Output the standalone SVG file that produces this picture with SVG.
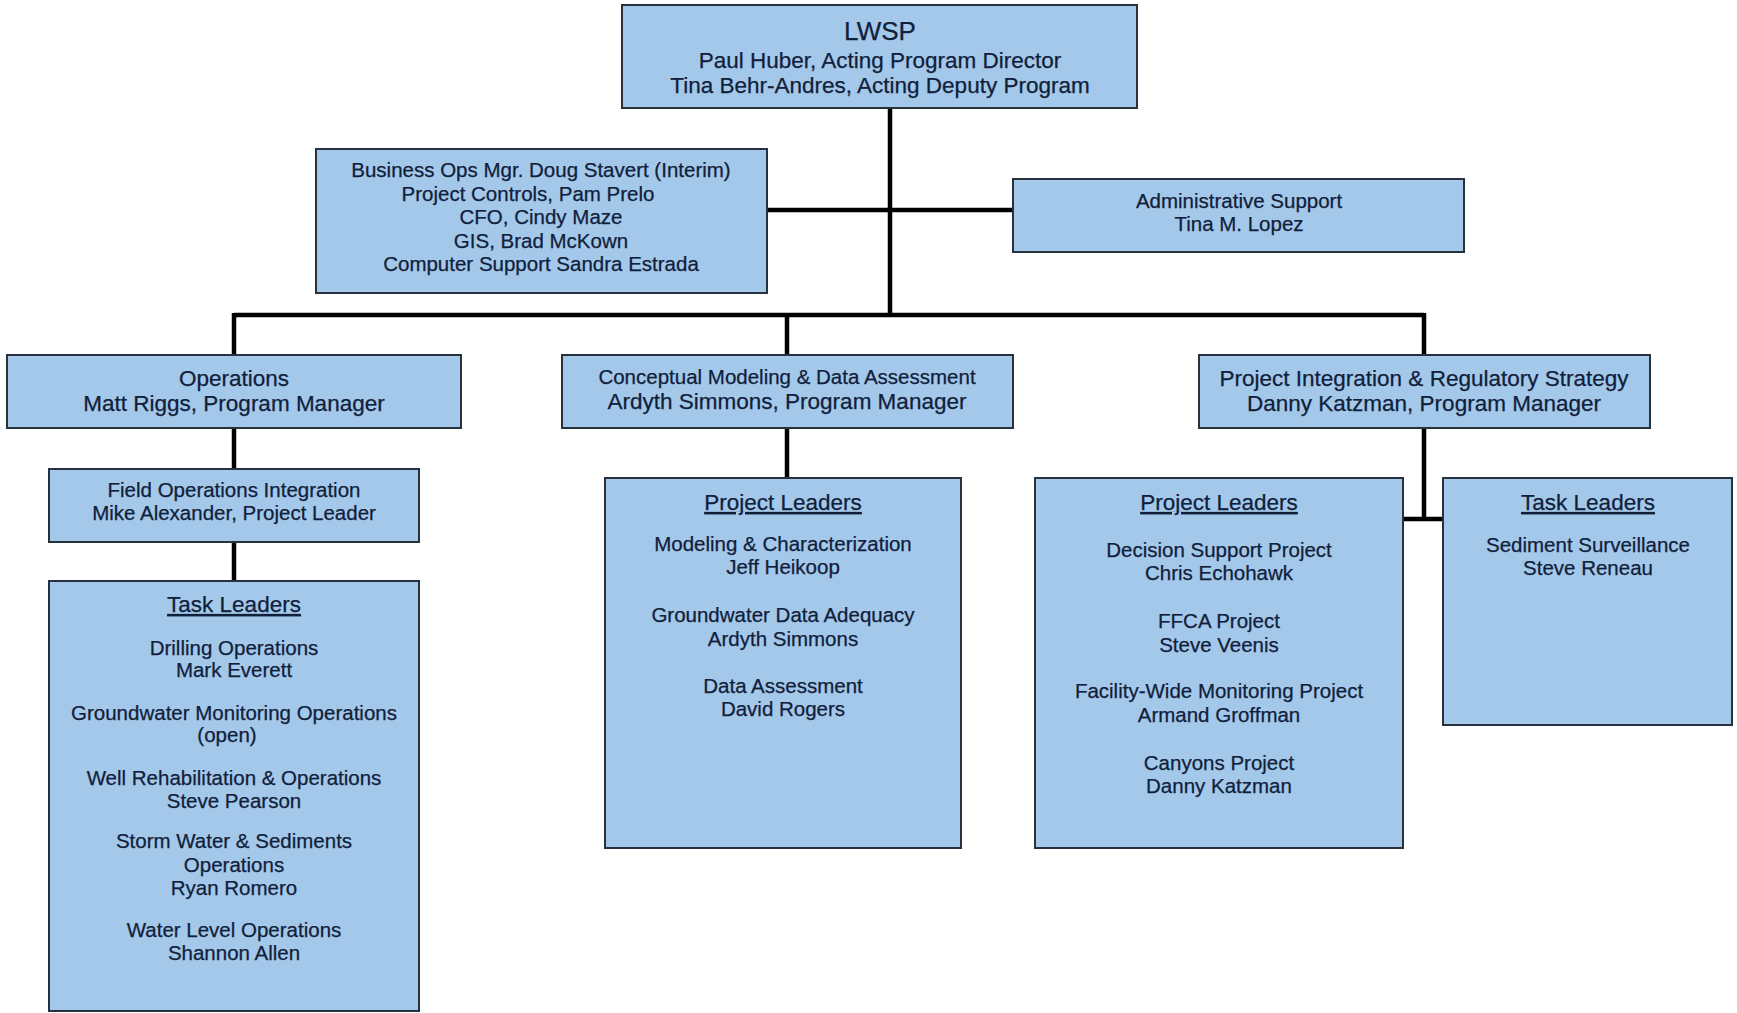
<svg xmlns="http://www.w3.org/2000/svg" width="1737" height="1013" viewBox="0 0 1737 1013">
<style>
.box{fill:#a4c8ea;stroke:#28323c;stroke-width:2}
text{font-family:"Liberation Sans",Arial,sans-serif;fill:#10203a;stroke:#10203a;stroke-width:0.25;text-anchor:middle}
.t{font-size:20.5px}
.m{font-size:22.5px}
.h{font-size:22.5px;text-decoration:underline}
.conn{stroke:#000;stroke-width:4.5;fill:none}
</style>
<rect width="1737" height="1013" fill="#fff"/>
<g id="connectors">
<path class="conn" d="M890 108 V315"/>
<path class="conn" d="M767 210 H1013"/>
<path class="conn" d="M234 315 H1424"/>
<path class="conn" d="M234 313 V355"/>
<path class="conn" d="M787 313 V355"/>
<path class="conn" d="M1424 313 V355"/>
<path class="conn" d="M234 428 V469"/>
<path class="conn" d="M234 542 V581"/>
<path class="conn" d="M787 428 V478"/>
<path class="conn" d="M1424 428 V519"/>
<path class="conn" d="M1403 519 H1443"/>
</g>
<g id="lwsp">
<rect class="box" x="622" y="5" width="515" height="103"/>
<text x="880" y="40" style="font-size:26px">LWSP</text>
<text class="m" x="880" y="68">Paul Huber, Acting Program Director</text>
<text class="m" x="880" y="93">Tina Behr-Andres, Acting Deputy Program</text>
</g>
<g id="business">
<rect class="box" x="316" y="149" width="451" height="144"/>
<text class="t" x="541" y="177">Business Ops Mgr. Doug Stavert (Interim)</text>
<text class="t" x="528" y="201">Project Controls, Pam Prelo</text>
<text class="t" x="541" y="224">CFO, Cindy Maze</text>
<text class="t" x="541" y="248">GIS, Brad McKown</text>
<text class="t" x="541" y="271">Computer Support Sandra Estrada</text>
</g>
<g id="admin">
<rect class="box" x="1013" y="179" width="451" height="73"/>
<text class="t" x="1239" y="208">Administrative Support</text>
<text class="t" x="1239" y="231">Tina M. Lopez</text>
</g>
<g id="operations">
<rect class="box" x="7" y="355" width="454" height="73"/>
<text class="m" x="234" y="386">Operations</text>
<text class="m" x="234" y="411">Matt Riggs, Program Manager</text>
</g>
<g id="conceptual">
<rect class="box" x="562" y="355" width="451" height="73"/>
<text class="t" x="787" y="384">Conceptual Modeling &amp; Data Assessment</text>
<text class="m" x="787" y="409">Ardyth Simmons, Program Manager</text>
</g>
<g id="integration">
<rect class="box" x="1199" y="355" width="451" height="73"/>
<text class="m" x="1424" y="386">Project Integration &amp; Regulatory Strategy</text>
<text class="m" x="1424" y="411">Danny Katzman, Program Manager</text>
</g>
<g id="field-ops">
<rect class="box" x="49" y="469" width="370" height="73"/>
<text class="t" x="234" y="497">Field Operations Integration</text>
<text class="t" x="234" y="520">Mike Alexander, Project Leader</text>
</g>
<g id="ops-task-leaders">
<rect class="box" x="49" y="581" width="370" height="430"/>
<text class="h" x="234" y="612">Task Leaders</text>
<text class="t" x="234" y="655">Drilling Operations</text>
<text class="t" x="234" y="677">Mark Everett</text>
<text class="t" x="234" y="720">Groundwater Monitoring Operations</text>
<text class="t" x="227" y="742">(open)</text>
<text class="t" x="234" y="785">Well Rehabilitation &amp; Operations</text>
<text class="t" x="234" y="808">Steve Pearson</text>
<text class="t" x="234" y="848">Storm Water &amp; Sediments</text>
<text class="t" x="234" y="872">Operations</text>
<text class="t" x="234" y="895">Ryan Romero</text>
<text class="t" x="234" y="937">Water Level Operations</text>
<text class="t" x="234" y="960">Shannon Allen</text>
</g>
<g id="cm-project-leaders">
<rect class="box" x="605" y="478" width="356" height="370"/>
<text class="h" x="783" y="510">Project Leaders</text>
<text class="t" x="783" y="551">Modeling &amp; Characterization</text>
<text class="t" x="783" y="574">Jeff Heikoop</text>
<text class="t" x="783" y="622">Groundwater Data Adequacy</text>
<text class="t" x="783" y="646">Ardyth Simmons</text>
<text class="t" x="783" y="693">Data Assessment</text>
<text class="t" x="783" y="716">David Rogers</text>
</g>
<g id="pi-project-leaders">
<rect class="box" x="1035" y="478" width="368" height="370"/>
<text class="h" x="1219" y="510">Project Leaders</text>
<text class="t" x="1219" y="557">Decision Support Project</text>
<text class="t" x="1219" y="580">Chris Echohawk</text>
<text class="t" x="1219" y="628">FFCA Project</text>
<text class="t" x="1219" y="652">Steve Veenis</text>
<text class="t" x="1219" y="698">Facility-Wide Monitoring Project</text>
<text class="t" x="1219" y="722">Armand Groffman</text>
<text class="t" x="1219" y="770">Canyons Project</text>
<text class="t" x="1219" y="793">Danny Katzman</text>
</g>
<g id="pi-task-leaders">
<rect class="box" x="1443" y="478" width="289" height="247"/>
<text class="h" x="1588" y="510">Task Leaders</text>
<text class="t" x="1588" y="552">Sediment Surveillance</text>
<text class="t" x="1588" y="575">Steve Reneau</text>
</g>
</svg>
